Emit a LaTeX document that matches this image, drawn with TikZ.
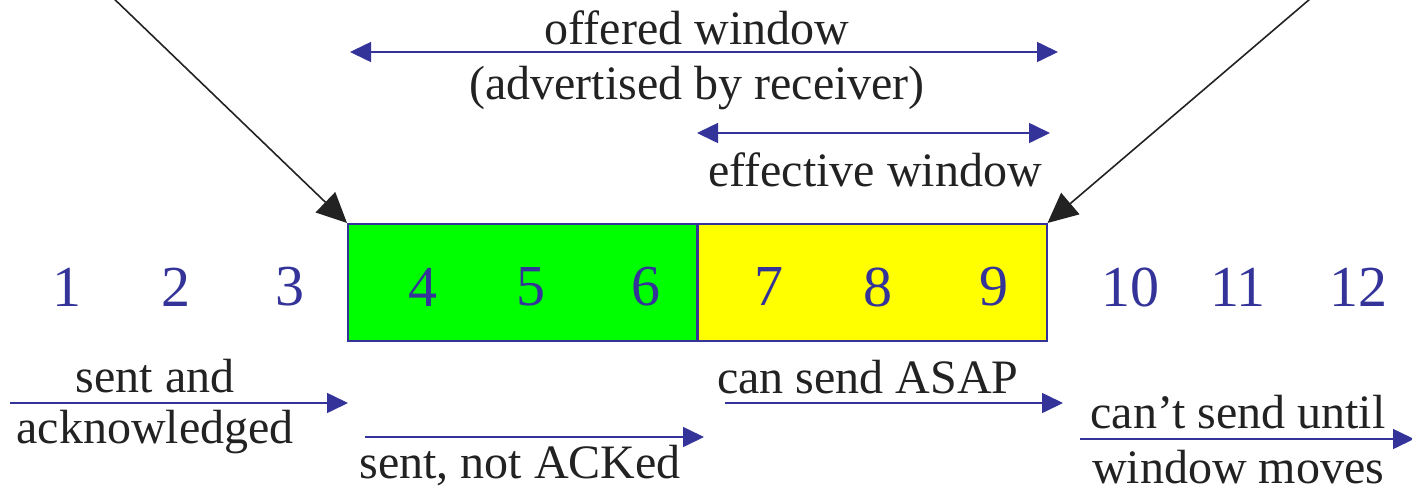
\documentclass[tikz,border=0pt]{standalone}
\usepackage{fontspec}
\setmainfont{Liberation Serif}
\usetikzlibrary{arrows.meta}
\definecolor{navy}{HTML}{333399}
\definecolor{txt}{HTML}{222222}
\definecolor{brightgreen}{HTML}{00FF00}
\definecolor{brightyellow}{HTML}{FFFF00}
\tikzset{
  lbl/.style={text=txt,font=\fontsize{48}{52}\selectfont,inner sep=0pt},
  num/.style={text=navy,font=\fontsize{58}{62}\selectfont,inner sep=0pt},
  barrow/.style={draw=navy,line width=1.6pt,-{Triangle[length=21pt,width=20pt]}},
  darrow/.style={draw=navy,line width=1.6pt,{Triangle[length=21pt,width=20pt]}-{Triangle[length=21pt,width=20pt]}},
  karrow/.style={draw=txt,line width=1.6pt,-{Triangle[length=30pt,width=28pt]}},
  cell/.style={draw=navy,line width=2pt,minimum width=349pt,minimum height=117pt,inner sep=0pt}
}
\begin{document}
\begin{tikzpicture}[x=1pt,y=-1pt]
\useasboundingbox (0,0) rectangle (1412,488);
% boxes
\node[cell,fill=brightgreen] (g) at (522.5,282.5) {};
\node[cell,fill=brightyellow] (yw) at (872,282.5) {};
% numbers
\foreach \n/\x in {1/67,2/176,3/290,4/423,5/531,6/646,7/769,8/878,9/994,10/1130,11/1238,12/1358}
  \node[num] (n\n) at (\x,287) {\n};
% black pointers
\coordinate (tl) at (108,-7);
\coordinate (tr) at (1317,-7);
\draw[karrow] (tl) -- (g.north west);
\draw[karrow] (tr) -- (yw.north east);
% offered window
\coordinate (ow1) at (350,52);
\coordinate (ow2) at (1058,52);
\draw[darrow] (ow1) -- (ow2);
\node[lbl] (owt) at (697,28) {offered window};
\node[lbl] (owt2) at (697,88) {(advertised by receiver)};
% effective window
\coordinate (ew1) at (697,133);
\coordinate (ew2) at (1050,133);
\draw[darrow] (ew1) -- (ew2);
\node[lbl] (ewt) at (875,170) {effective window};
% bottom arrows
\coordinate (a1s) at (10,403); \coordinate (a1e) at (348,403);
\draw[barrow] (a1s) -- (a1e);
\node[lbl] (a1t) at (155,376) {sent and};
\node[lbl] (a1b) at (155,432) {acknowledged};
\coordinate (a2s) at (365,437); \coordinate (a2e) at (704,437);
\draw[barrow] (a2s) -- (a2e);
\node[lbl] (a2t) at (520,466) {sent, not ACKed};
\coordinate (a3s) at (725,403); \coordinate (a3e) at (1063,403);
\draw[barrow] (a3s) -- (a3e);
\node[lbl] (a3t) at (868,377) {can send ASAP};
\coordinate (a4s) at (1080,439); \coordinate (a4e) at (1414,439);
\draw[barrow] (a4s) -- (a4e);
\node[lbl] (a4t) at (1238,412) {can’t send until};
\node[lbl] (a4b) at (1238,467) {window moves};
\end{tikzpicture}
\end{document}
